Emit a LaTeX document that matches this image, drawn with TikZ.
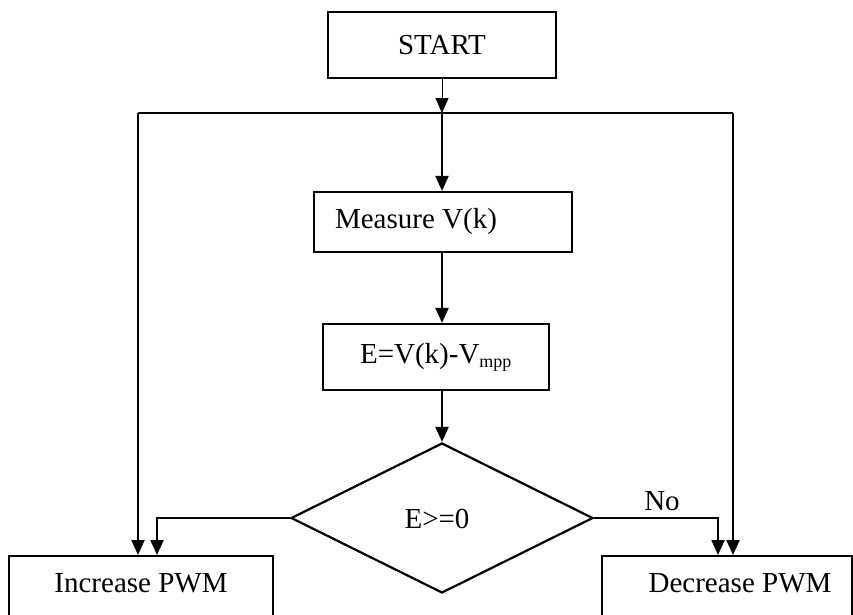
\documentclass[tikz,border=0pt]{standalone}
\usepackage{fontspec}
\setmainfont{Liberation Serif}
\usetikzlibrary{arrows.meta,shapes.geometric}
\begin{document}
\begin{tikzpicture}[x=1pt,y=-1pt,
  every node/.style={font=\fontsize{29}{34}\selectfont},
  box/.style={draw, line width=2.2pt, inner sep=0pt},
  decision/.style={draw, line width=2.2pt, diamond, inner sep=0pt,
    minimum width=302pt, minimum height=150pt},
  flow/.style={line width=2.2pt, -{Triangle[length=15pt,width=13pt]}},
  thinflow/.style={line width=1pt, -{Triangle[length=15pt,width=13pt]}},
  line/.style={line width=2.2pt}]
\useasboundingbox (0,0) rectangle (853,614);
\clip (0,0) rectangle (853,614);

% process boxes
\node[box, minimum width=228pt, minimum height=66pt] (start) at (442,45) {START};
\node[box, minimum width=258pt, minimum height=60pt] (meas) at (443,222) {};
\node (meastext) at (416,222) {Measure V(k)};
\node[box, minimum width=226pt, minimum height=66pt] (err) at (436,357)
  {E=V(k)-V\textsubscript{\fontsize{18}{20}\selectfont mpp}};
\node[decision] (dec) at (442,518) {};
\node (dectext) at (437,519) {E>=0};

% output boxes, running past the lower edge
\node[box, anchor=north, minimum width=264pt, minimum height=90pt] (inc) at (141,555) {};
\node (inctext) at (141,583) {Increase PWM};
\node[box, anchor=north, minimum width=250pt, minimum height=90pt] (decr) at (727,555) {};
\node (decrtext) at (740,583) {Decrease PWM};

% junction line under START
\coordinate (tl) at (138,113);
\coordinate (tm) at (442,113);
\coordinate (tr) at (733,113);
\draw[line] (tl) -- (tr);
\draw[thinflow] (start.south) -- (tm);
\draw[flow] (tm) -- (meas.north -| tm);
\draw[flow] (meas.south -| tm) -- (err.north -| tm);
\draw[flow] (err.south -| tm) -- (dec.north);

% side feeds
\draw[flow] (tl) -- (inc.north -| tl);
\draw[flow] (tr) -- (decr.north -| tr);

% decision branches
\coordinate (yesx) at (157,518);
\coordinate (nox) at (718,518);
\draw[flow] (dec.west) -- (yesx) -- (inc.north -| yesx);
\draw[flow] (dec.east) -- (nox) -- (decr.north -| nox);
\node (nolabel) at (662,501) {No};
\end{tikzpicture}
\end{document}
